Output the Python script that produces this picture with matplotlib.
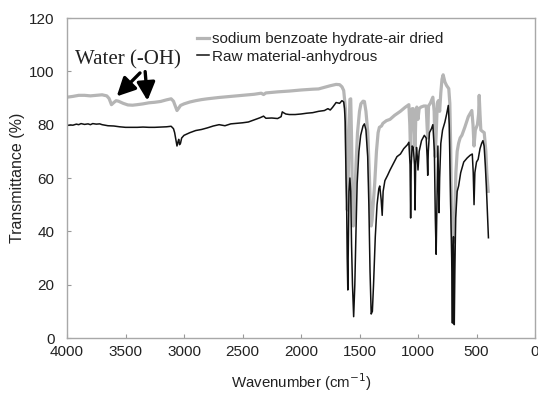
import matplotlib
matplotlib.use("Agg")
import matplotlib.pyplot as plt

# ---------------- data ----------------
gray_label = "sodium benzoate hydrate-air dried"
black_label = "Raw material-anhydrous"

gray_wn = [4000, 3950, 3900, 3850, 3800, 3750, 3700, 3660, 3640, 3620, 3600, 3580, 3560, 3520,
           3480, 3440, 3400, 3350, 3300, 3250, 3200, 3150, 3110, 3090, 3070, 3060, 3045, 3030,
           3000, 2950, 2900, 2850, 2800, 2700, 2600, 2500, 2400, 2340, 2320, 2300, 2200, 2100,
           2000, 1900, 1850, 1800, 1750, 1700, 1670, 1650, 1635, 1620, 1612, 1605, 1598, 1590,
           1582, 1575, 1568, 1560, 1553, 1545, 1530, 1517, 1500, 1488, 1470, 1458, 1445, 1429,
           1415, 1405, 1400, 1393, 1380, 1370, 1355, 1341, 1330, 1312, 1300, 1270, 1239, 1200,
           1151, 1110, 1078, 1070, 1063, 1057, 1050, 1040, 1033, 1025, 1018, 1010, 1000, 990,
           975, 950, 930, 922, 917, 910, 895, 873, 862, 853, 845, 835, 826, 815, 805, 795, 785,
           770, 756, 737, 728, 720, 715, 705, 698, 690, 684, 676, 665, 653, 640, 625, 600, 570,
           540, 530, 521, 510, 492, 482, 477, 470, 463, 450, 434, 420, 412, 404, 400]
gray_t = [90.3, 90.6, 91.0, 91.0, 90.8, 91.0, 91.2, 90.8, 89.8, 87.5, 88.3, 89.0, 88.8, 88.0,
          87.4, 87.3, 87.5, 87.8, 88.2, 88.4, 88.7, 89.3, 89.7, 88.8, 86.5, 85.3, 86.2, 87.2,
          87.8, 88.5, 89.0, 89.4, 89.7, 90.2, 90.6, 91.0, 91.4, 91.8, 91.3, 91.9, 92.3, 92.6,
          93.0, 93.3, 93.4, 94.0, 94.6, 95.1, 95.0, 94.2, 92.8, 86.0, 70.0, 48.0, 55.0, 75.0,
          89.5, 89.7, 75.0, 50.0, 42.0, 45.0, 65.0, 77.0, 85.0, 87.8, 88.8, 88.7, 85.0, 77.0,
          60.0, 45.0, 42.0, 44.0, 52.0, 58.0, 70.0, 77.0, 79.0, 79.5, 80.5, 81.5, 82.0, 83.5,
          85.0, 86.5, 87.5, 80.0, 68.0, 80.0, 86.0, 86.0, 80.0, 72.0, 84.0, 86.6, 82.0, 86.0,
          86.6, 87.0, 87.0, 79.0, 75.0, 87.0, 88.0, 90.3, 85.0, 68.0, 76.0, 88.0, 89.0, 85.0,
          92.0, 97.0, 98.7, 96.0, 94.7, 93.5, 88.0, 70.0, 50.0, 38.0, 44.0, 36.0, 50.0, 62.0,
          70.0, 73.0, 75.0, 76.0, 79.0, 83.0, 85.3, 80.0, 72.0, 78.0, 80.0, 84.0, 91.0, 84.0,
          78.0, 77.5, 77.0, 70.0, 62.0, 57.0, 55.0]

black_wn = [4000, 3970, 3950, 3920, 3900, 3880, 3850, 3820, 3800, 3780, 3750, 3720, 3700, 3650,
            3600, 3550, 3500, 3450, 3400, 3350, 3300, 3250, 3200, 3150, 3110, 3090, 3080, 3070,
            3060, 3052, 3045, 3038, 3030, 3020, 3000, 2950, 2900, 2850, 2800, 2750, 2700, 2650,
            2600, 2550, 2500, 2450, 2400, 2350, 2320, 2300, 2250, 2200, 2170, 2160, 2150, 2130,
            2100, 2050, 2000, 1950, 1900, 1850, 1800, 1770, 1750, 1730, 1700, 1670, 1650, 1635,
            1628, 1622, 1615, 1610, 1605, 1600, 1595, 1590, 1582, 1575, 1568, 1560, 1550, 1540,
            1530, 1520, 1505, 1490, 1470, 1458, 1445, 1430, 1420, 1410, 1400, 1390, 1380, 1365,
            1350, 1335, 1327, 1315, 1306, 1298, 1283, 1260, 1239, 1210, 1180, 1150, 1122, 1090,
            1078, 1068, 1063, 1058, 1050, 1040, 1030, 1025, 1020, 1013, 1006, 1000, 990, 970,
            946, 930, 922, 917, 912, 902, 885, 873, 860, 852, 845, 838, 830, 825, 820, 815, 805,
            790, 770, 755, 741, 733, 725, 717, 712, 706, 702, 697, 693, 690, 685, 678, 665, 653,
            635, 609, 580, 555, 536, 528, 521, 514, 500, 486, 470, 456, 445, 435, 425, 416, 408,
            398]
black_t = [79.7, 79.9, 79.8, 80.2, 80.0, 80.4, 80.1, 80.3, 80.0, 80.4, 80.2, 80.3, 80.0, 79.6,
           79.5, 79.2, 79.0, 79.0, 79.0, 79.1, 79.0, 79.0, 79.1, 79.2, 79.4, 78.5, 77.0, 74.5,
           72.0, 73.5, 74.5, 72.5, 73.0, 75.0, 76.0, 77.0, 77.8, 78.2, 78.8, 79.5, 80.0, 79.6,
           80.3, 80.5, 80.7, 81.0, 81.8, 82.6, 83.2, 82.4, 82.5, 82.3, 83.0, 84.8, 84.5, 84.0,
           83.8, 83.8, 84.0, 84.3, 84.5, 85.0, 85.3, 86.0, 85.5, 86.5, 88.3, 88.0, 89.0, 88.5,
           86.0, 81.0, 60.0, 50.0, 30.0, 18.0, 35.0, 55.0, 60.0, 55.0, 35.0, 20.0, 8.0, 20.0,
           40.0, 58.0, 70.0, 76.0, 79.5, 80.3, 78.0, 68.0, 50.0, 25.0, 9.0, 10.0, 20.0, 38.0,
           50.0, 56.0, 57.0, 52.0, 46.0, 55.0, 59.0, 61.0, 63.0, 65.5, 68.0, 69.0, 71.0, 72.5,
           73.4, 65.0, 45.0, 65.0, 72.0, 71.5, 65.0, 48.0, 65.0, 71.5, 68.0, 63.0, 70.0, 74.0,
           76.0, 75.0, 68.0, 61.0, 70.0, 77.0, 78.5, 80.0, 70.0, 45.0, 31.4, 50.0, 72.0, 60.0,
           47.0, 60.0, 73.0, 78.0, 81.0, 84.0, 87.2, 80.0, 60.0, 40.8, 30.0, 5.6, 30.0, 38.0,
           15.0, 5.0, 25.0, 45.0, 55.0, 57.0, 62.0, 66.0, 67.5, 68.5, 69.0, 62.0, 50.0, 62.0,
           66.0, 67.0, 71.0, 73.0, 74.0, 72.0, 65.0, 57.0, 48.0, 37.6]

x_ticks = [4000, 3500, 3000, 2500, 2000, 1500, 1000, 500, 0]
y_ticks = [0, 20, 40, 60, 80, 100, 120]

annot_text = "Water (-OH)"
annot_text_pos = (3935, 102.5)
arrow_tails = [(3376, 99.4), (3332, 99.9)]
arrow_heads = [(3575, 90.6), (3312, 89.0)]

# ---------------- figure ----------------
sans = ['Liberation Sans', 'DejaVu Sans']
plt.rcParams['font.family'] = sans

fig = plt.figure(figsize=(5.38, 3.96), dpi=100)
ax = fig.add_axes([67 / 538, (396 - 338) / 396, (535 - 67) / 538, (338 - 18) / 396])

ax.plot(gray_wn, gray_t, color='#b5b5b5', lw=2.3, label=gray_label, solid_joinstyle='round')
ax.plot(black_wn, black_t, color='#111111', lw=1.1, label=black_label, solid_joinstyle='round')

ax.set_xlim(4000, 0)
ax.set_ylim(0, 120)
ax.set_xticks(x_ticks)
ax.set_yticks(y_ticks)
ax.set_xticklabels([str(v) for v in x_ticks])
ax.set_yticklabels([str(v) for v in y_ticks])
ax.tick_params(direction='in', length=3, width=0.8, color='#999999', labelsize=11,
               labelcolor='#222222')
ax.tick_params(axis='x', pad=5)
ax.tick_params(axis='y', pad=9)
for s in ax.spines.values():
    s.set_color('#a8a8a8')
    s.set_linewidth(1.0)

ax.set_xlabel("Wavenumber (cm$^{-1}$)", fontsize=10.8, color='#222222', labelpad=9)
ax.set_ylabel("Transmittance (%)", fontsize=11.5, color='#222222', labelpad=3)

leg = ax.legend(loc='upper left', bbox_to_anchor=(0.278, 0.955), frameon=False,
                fontsize=11, handlelength=0.75, handletextpad=0.25, labelspacing=0.22,
                borderpad=0.0, borderaxespad=0)
for t in leg.get_texts():
    t.set_color('#222222')

ax.text(annot_text_pos[0], annot_text_pos[1], annot_text, family=['Liberation Serif', 'DejaVu Serif'],
        fontsize=15, color='#222222', ha='left', va='baseline')
for tail, head in zip(arrow_tails, arrow_heads):
    ax.annotate('', xy=head, xytext=tail,
                arrowprops=dict(arrowstyle='-|>,head_length=1.1,head_width=0.55',
                                lw=2.4, color='black', shrinkA=0, shrinkB=0))

fig.savefig("out.png", dpi=100)
